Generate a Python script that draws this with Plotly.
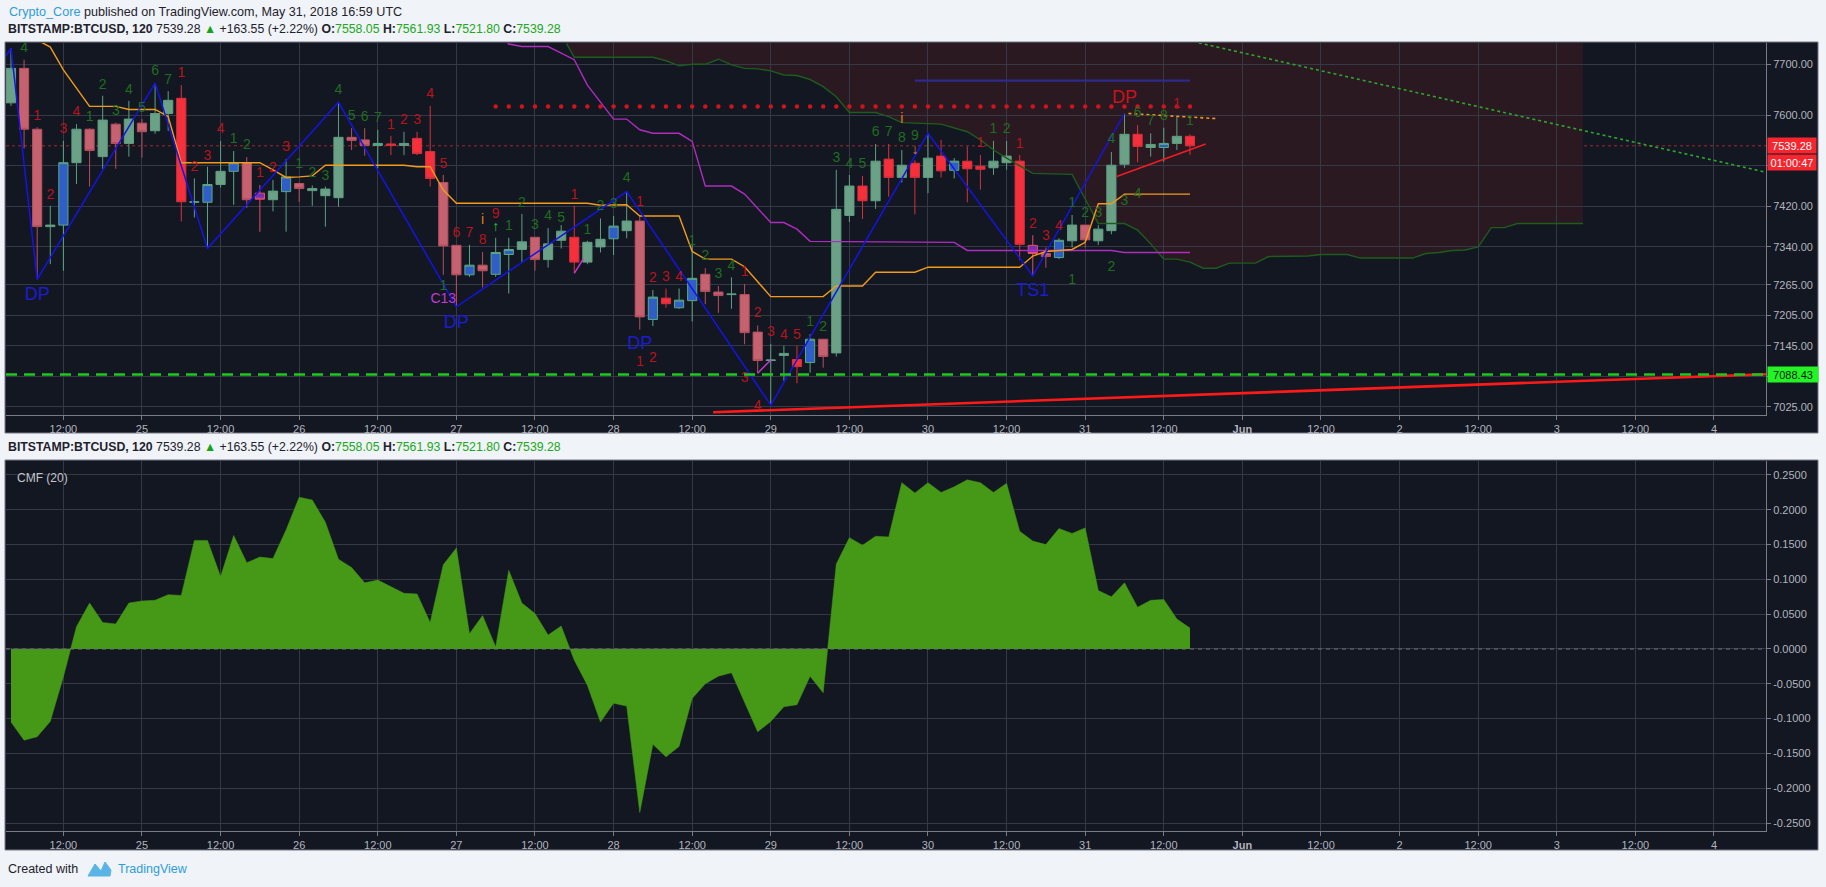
import pandas as pd
import plotly.graph_objects as go

W, H = 1826, 887

# ---------------- data ----------------
first_bar = pd.Timestamp("2018-05-24 04:00")
bar_step = pd.Timedelta(hours=2)

opens = [7624, 7692, 7572, 7380, 7383, 7506, 7572, 7518, 7582, 7544,
         7584, 7569, 7603, 7633, 7428, 7428, 7463, 7489, 7506, 7446,
         7433, 7449, 7465, 7451, 7441, 7437, 7556, 7551, 7540, 7543,
         7540, 7554, 7528, 7467, 7343, 7285, 7304, 7286, 7325, 7335,
         7359, 7315, 7353, 7359, 7310, 7340, 7356, 7372, 7391, 7197,
         7239, 7220, 7234, 7286, 7251, 7246, 7246, 7172, 7116, 7126,
         7118, 7112, 7158, 7131, 7402, 7460, 7431, 7513, 7477, 7505,
         7477, 7519, 7491, 7509, 7499, 7496, 7506, 7509, 7343, 7327,
         7319, 7352, 7383, 7352, 7372, 7503, 7562, 7536, 7536, 7544,
         7558.05]
highs = [7732, 7709, 7576, 7421, 7549, 7582, 7574, 7638, 7585, 7628,
         7592, 7663, 7647, 7659, 7475, 7498, 7549, 7529, 7517, 7462,
         7472, 7513, 7467, 7461, 7459, 7625, 7574, 7574, 7571, 7559,
         7567, 7567, 7618, 7482, 7343, 7344, 7330, 7358, 7358, 7405,
         7359, 7377, 7383, 7421, 7352, 7396, 7401, 7449, 7403, 7255,
         7258, 7258, 7347, 7298, 7263, 7280, 7267, 7185, 7149, 7145,
         7145, 7168, 7158, 7492, 7482, 7480, 7543, 7543, 7531, 7511,
         7564, 7551, 7515, 7538, 7521, 7549, 7549, 7521, 7363, 7339,
         7357, 7403, 7383, 7383, 7527, 7603, 7580, 7564, 7575, 7597,
         7561.93]
lows = [7618, 7534, 7276, 7306, 7293, 7464, 7459, 7494, 7494, 7518,
        7516, 7563, 7569, 7390, 7398, 7337, 7457, 7423, 7417, 7370,
        7410, 7370, 7429, 7421, 7380, 7419, 7531, 7520, 7495, 7521,
        7521, 7521, 7459, 7285, 7222, 7281, 7260, 7281, 7248, 7310,
        7293, 7299, 7337, 7289, 7306, 7329, 7324, 7357, 7177, 7184,
        7220, 7218, 7193, 7227, 7210, 7218, 7148, 7091, 7028, 7076,
        7071, 7092, 7102, 7124, 7389, 7395, 7415, 7439, 7467, 7404,
        7446, 7477, 7475, 7428, 7453, 7482, 7492, 7314, 7283, 7299,
        7316, 7339, 7339, 7344, 7365, 7496, 7507, 7518, 7508, 7531,
        7521.80]
closes = [7692, 7572, 7380, 7383, 7506, 7572, 7530, 7590, 7544, 7592,
          7567, 7603, 7629, 7429, 7429, 7463, 7489, 7506, 7433, 7434,
          7450, 7478, 7455, 7455, 7454, 7556, 7550, 7540, 7544, 7540,
          7544, 7524, 7475, 7342, 7285, 7304, 7293, 7329, 7335, 7350,
          7315, 7346, 7371, 7310, 7349, 7355, 7381, 7391, 7202, 7241,
          7228, 7235, 7278, 7252, 7244, 7247, 7171, 7116, 7117, 7130,
          7104, 7158, 7124, 7414, 7460, 7431, 7509, 7477, 7501, 7477,
          7515, 7490, 7509, 7494, 7493, 7509, 7519, 7345, 7327, 7321,
          7353, 7383, 7354, 7375, 7501, 7562, 7538, 7542, 7544, 7558,
          7539.28]
# bar colouring of the indicator: g=green, p=pale red, r=red, b=blue, v=violet
bar_style = list("gppgbgpgpg" "pggrgbgbpv" "gbpgggppbr" "grrppbpbbg" "pggrggbgpb"
                 "rbbppgppgg" "rbpggrgrgr" "grbrrggrvp" "bgpgggrgbg" "r")

cmf = [-0.105, -0.131, -0.126, -0.104, -0.040, 0.032, 0.066, 0.038, 0.036, 0.066,
       0.069, 0.070, 0.078, 0.077, 0.156, 0.156, 0.104, 0.163, 0.124, 0.132,
       0.130, 0.171, 0.218, 0.214, 0.182, 0.129, 0.117, 0.095, 0.099, 0.089,
       0.080, 0.079, 0.038, 0.121, 0.145, 0.022, 0.048, 0.003, 0.113, 0.066,
       0.051, 0.020, 0.033, -0.016, -0.052, -0.105, -0.078, -0.082, -0.235, -0.137,
       -0.155, -0.140, -0.071, -0.050, -0.039, -0.034, -0.076, -0.119, -0.104, -0.083,
       -0.080, -0.039, -0.063, 0.122, 0.160, 0.149, 0.162, 0.161, 0.239, 0.224,
       0.239, 0.225, 0.233, 0.243, 0.239, 0.225, 0.238, 0.169, 0.155, 0.150,
       0.173, 0.166, 0.174, 0.084, 0.075, 0.095, 0.060, 0.070, 0.071, 0.043,
       0.030]

# overlays (x given in bar numbers)
zigzag_idx = [-1, 0, 2, 11, 15, 25, 34, 47, 58, 70, 78, 85]
zigzag_px = [7692, 7732, 7276, 7663, 7337, 7625, 7222, 7449, 7028, 7564, 7283, 7603]

orange_idx = [2, 3, 4, 6, 8, 9, 11, 12, 13, 19, 20, 21, 22, 23, 24, 30, 31, 32, 33, 34,
              44, 45, 47, 48, 51, 52, 53, 55, 56, 58, 62, 63, 65, 66, 69, 70, 77, 78, 79, 81,
              82, 83, 84, 85, 90]
orange_px = [7748, 7734, 7689, 7617, 7617, 7611, 7611, 7597, 7506, 7506, 7492, 7477, 7478, 7480, 7501, 7501, 7498, 7498, 7452, 7426,
             7426, 7422, 7423, 7401, 7401, 7331, 7316, 7316, 7301, 7242, 7242, 7263, 7263, 7290, 7290, 7300, 7300, 7322, 7331, 7335,
             7349, 7425, 7425, 7444, 7444]

magenta_idx = [37, 38, 39, 41, 43, 44, 46, 47, 48, 49, 51, 52, 53, 55, 56, 58, 59, 60, 61, 72, 73, 84, 85, 90]
magenta_px = [7770, 7740, 7735, 7735, 7709, 7659, 7592, 7592, 7571, 7564, 7564, 7548, 7460, 7460, 7444, 7388, 7388, 7375, 7351, 7349, 7333, 7333, 7329, 7329]
magenta_seg1 = ([43, 43.7], [7288, 7317])
magenta_seg2 = ([57, 58], [7091, 7117])

cloud_idx = [42.4, 43, 45, 49, 50, 51, 52, 53, 54, 55, 56, 57, 58, 59, 60, 61, 62, 63, 64, 66,
             67, 68, 71, 72, 73, 74, 75, 76, 77, 78, 81, 82, 83, 85, 86, 87, 88, 89, 90, 91,
             92, 93, 95, 96, 99, 100, 102, 103, 107, 108, 109, 110, 111, 112, 113, 114, 115, 120]
cloud_px = [7741, 7714, 7714, 7714, 7707, 7697, 7700, 7700, 7710, 7699, 7692, 7691, 7687, 7679, 7678, 7670, 7656, 7636, 7605, 7605,
            7597, 7585, 7582, 7574, 7567, 7551, 7531, 7515, 7500, 7485, 7483, 7433, 7386, 7386, 7373, 7346, 7316, 7316, 7310, 7298,
            7298, 7308, 7308, 7321, 7322, 7325, 7325, 7318, 7318, 7327, 7329, 7333, 7334, 7340, 7378, 7378, 7386, 7386]
cloud_top = 7800

resistance_level = 7617
resistance_bars = (37, 90)
navy_level = 7668
navy_bars = (69, 90)
support_level = 7088.43
last_price = 7539.28
red_ray = ([53.6, 134], [7014, 7089])
green_dotted = ([88, 134], [7758, 7487])
red_short = ([84.4, 91.2], [7479, 7543])
orange_dotted = ([85.3, 92], [7603, 7593])

green_labels = [(1, "4", 7732), (6, "1", 7595), (7, "2", 7659), (8, "3", 7607), (9, "4", 7649), (10, "5", 7613),
                (11, "6", 7686), (12, "7", 7669), (17, "1", 7552), (18, "2", 7539), (22, "1", 7502), (23, "2", 7485),
                (24, "3", 7479), (25, "4", 7648), (26, "5", 7597), (27, "6", 7595), (28, "7", 7593), (33, "1", 7262),
                (38, "1", 7380), (39, "2", 7426), (40, "3", 7382), (41, "4", 7400), (42, "5", 7396), (44, "1", 7373),
                (45, "2", 7419), (46, "3", 7423), (47, "4", 7475), (52, "1", 7350), (53, "2", 7321), (54, "3", 7285),
                (55, "4", 7302), (61, "1", 7191), (62, "2", 7181), (63, "3", 7515), (64, "4", 7503), (65, "5", 7502),
                (66, "6", 7565), (67, "7", 7565), (68, "8", 7553), (69, "9", 7557), (75, "1", 7572), (76, "2", 7572),
                (81, "1", 7425), (82, "2", 7405), (83, "3", 7405), (84, "4", 7551), (86, "6", 7603), (87, "7", 7588),
                (88, "8", 7597), (90, "1", 7587), (81, "1", 7273), (84, "2", 7300), (85, "3", 7430), (86, "4", 7444)]
red_labels = [(2, "1", 7598), (3, "2", 7442), (4, "3", 7571), (5, "4", 7605), (13, "1", 7681), (14, "2", 7497),
              (15, "3", 7519), (16, "4", 7571), (19, "1", 7485), (20, "2", 7494), (21, "3", 7536), (29, "1", 7580),
              (30, "2", 7589), (31, "3", 7589), (32, "4", 7641), (33, "5", 7503), (34, "6", 7367), (35, "7", 7367),
              (36, "8", 7352), (37, "9", 7404), (43, "1", 7442), (48, "1", 7427), (49, "2", 7277), (50, "3", 7280),
              (51, "4", 7280), (56, "1", 7289), (57, "2", 7208), (58, "3", 7171), (59, "4", 7166), (60, "5", 7166),
              (48, "1", 7112), (49, "2", 7120), (56, "3", 7081), (57, "4", 7025), (74, "1", 7544), (77, "1", 7541),
              (78, "2", 7385), (79, "3", 7360), (80, "4", 7381), (89, "1", 7620)]
big_labels = [(2, "DP", 7245, "#1c1cd0"), (34, "DP", 7189, "#1c1cd0"), (48, "DP", 7147, "#1c1cd0"),
              (78, "TS1", 7252, "#1c1cd0"), (85, "DP", 7633, "#c8141c")]
small_special = [(33, "C13", 7237, "#c13ad8"), (36, "i", 7392, "#d9801a"), (68, "i", 7592, "#d9801a"),
                 (69, "↓", 7531, "#d9801a"), (37, "↑", 7379, "#25d025")]

tick_times = pd.date_range("2018-05-24 12:00", periods=22, freq="12h")
tick_text = ["12:00", "25", "12:00", "26", "12:00", "27", "12:00", "28", "12:00", "29", "12:00",
             "30", "12:00", "31", "12:00", "<b>Jun</b>", "12:00", "2", "12:00", "3", "12:00", "4"]
price_ticks = [7025, 7085, 7145, 7205, 7265, 7340, 7420, 7500, 7600, 7700]
price_tick_text = ["7025.00", "", "7145.00", "7205.00", "7265.00", "7340.00", "7420.00", "", "7600.00", "7700.00"]
cmf_ticks = [0.25, 0.2, 0.15, 0.1, 0.05, 0.0, -0.05, -0.1, -0.15, -0.2, -0.25]

# ---------------- geometry / style ----------------
FONT = "Liberation Sans, Arial, sans-serif"
BG = "#131722"
GRID = "#353945"
AXC = "#787b86"
TXT = "#b2b5be"
PAGE = "#f0f3f7"


def xp(px):
    return px / W


def yp(py):
    return 1 - py / H


bars = list(range(len(opens)))
tick_vals = [(t - first_bar) / bar_step for t in tick_times]
x_range = [-0.38, 133.97]

STY = {
    "g": ("#6ba287", "#5f9f80"),
    "p": ("#c6626f", "#b5505e"),
    "r": ("#f5303c", "#d8313b"),
    "b": ("#2f5fc6", "#5aa882"),
    "v": ("#7c2eb3", "#e0506a"),
}

fig = go.Figure()

# Ichimoku-like cloud line
fig.add_trace(go.Scatter(x=cloud_idx, y=cloud_px, mode="lines",
                         line=dict(color="#1d5c1d", width=1.4), hoverinfo="skip"))

# candles
for key, (fillc, linec) in STY.items():
    idx = [i for i in bars if bar_style[i] == key]
    st = dict(fillcolor=fillc, line=dict(color=linec, width=1))
    fig.add_trace(go.Candlestick(
        x=idx, open=[opens[i] for i in idx], high=[highs[i] for i in idx],
        low=[lows[i] for i in idx], close=[closes[i] for i in idx],
        increasing=st, decreasing=st, whiskerwidth=0, hoverinfo="skip",
        xaxis="x", yaxis="y"))

# lines
fig.add_trace(go.Scatter(x=magenta_idx, y=magenta_px, mode="lines",
                         line=dict(color="#b02cc0", width=1.4), hoverinfo="skip"))
for seg in (magenta_seg1, magenta_seg2):
    fig.add_trace(go.Scatter(x=seg[0], y=seg[1], mode="lines",
                             line=dict(color="#c83ad8", width=1.4), hoverinfo="skip"))
fig.add_trace(go.Scatter(x=orange_idx, y=orange_px, mode="lines",
                         line=dict(color="#f29a1c", width=1.4), hoverinfo="skip"))
fig.add_trace(go.Scatter(x=zigzag_idx, y=zigzag_px, mode="lines",
                         line=dict(color="#1414e6", width=1.5), hoverinfo="skip"))
fig.add_trace(go.Scatter(x=list(navy_bars), y=[navy_level] * 2, mode="lines",
                         line=dict(color="#2c2a8c", width=2.2), hoverinfo="skip"))
res_x = list(range(resistance_bars[0], resistance_bars[1] + 1))
fig.add_trace(go.Scatter(x=res_x, y=[resistance_level] * len(res_x), mode="markers",
                         marker=dict(color="#d0141c", size=4.5), hoverinfo="skip"))
fig.add_trace(go.Scatter(x=red_ray[0], y=red_ray[1], mode="lines",
                         line=dict(color="#ff1a1a", width=2.6), hoverinfo="skip"))
fig.add_trace(go.Scatter(x=green_dotted[0], y=green_dotted[1], mode="lines",
                         line=dict(color="#2fa52f", width=1.6, dash="dot"), hoverinfo="skip"))
fig.add_trace(go.Scatter(x=red_short[0], y=red_short[1], mode="lines",
                         line=dict(color="#f01c24", width=1.6), hoverinfo="skip"))
fig.add_trace(go.Scatter(x=orange_dotted[0], y=orange_dotted[1], mode="lines",
                         line=dict(color="#f29a1c", width=1.6, dash="dot"), hoverinfo="skip"))


def text_trace(items, color, size):
    return go.Scatter(x=[a[0] for a in items], y=[a[2] for a in items], text=[a[1] for a in items],
                      mode="text", textposition="middle center",
                      textfont=dict(color=color, size=size, family=FONT), hoverinfo="skip")


fig.add_trace(text_trace(green_labels, "#1f6e1f", 14))
fig.add_trace(text_trace(red_labels, "#b8141c", 14))
for item in big_labels:
    fig.add_trace(go.Scatter(x=[item[0]], y=[item[2]], text=[item[1]], mode="text",
                             textfont=dict(color=item[3], size=18, family=FONT), hoverinfo="skip"))
for item in small_special:
    fig.add_trace(go.Scatter(x=[item[0]], y=[item[2]], text=[item[1]], mode="text",
                             textfont=dict(color=item[3], size=14, family=FONT), hoverinfo="skip"))

# CMF
fig.add_trace(go.Scatter(x=bars, y=cmf, mode="lines", fill="tozeroy", fillcolor="#459917",
                         line=dict(color="#459917", width=0.5), xaxis="x2", yaxis="y2",
                         hoverinfo="skip"))

# ---------------- shapes ----------------
cloud_path = "M " + " L ".join(f"{x},{y}" for x, y in zip(cloud_idx, cloud_px))
cloud_path += f" L {cloud_idx[-1]},{cloud_top} L {cloud_idx[0]},{cloud_top} Z"

shapes = [
    dict(type="rect", xref="paper", yref="paper", x0=xp(5), x1=xp(1818), y0=yp(433), y1=yp(42),
         fillcolor=BG, line=dict(color=AXC, width=1), layer="below"),
    dict(type="rect", xref="paper", yref="paper", x0=xp(5), x1=xp(1818), y0=yp(850), y1=yp(460),
         fillcolor=BG, line=dict(color=AXC, width=1), layer="below"),
    dict(type="path", xref="x", yref="y", path=cloud_path, fillcolor="#2b1922",
         line=dict(width=0), layer="below"),
    dict(type="line", xref="x domain", yref="y", x0=0, x1=1, y0=last_price, y1=last_price,
         line=dict(color="#a3252b", width=1, dash="dot"), layer="below"),
    dict(type="line", xref="x domain", yref="y", x0=0, x1=1, y0=support_level, y1=support_level,
         line=dict(color="#1ec81e", width=2.6, dash="11px,7px"), layer="above"),
    dict(type="line", xref="x2 domain", yref="y2", x0=0, x1=1, y0=0, y1=0,
         line=dict(color="#6f727c", width=1, dash="4px,4px"), layer="above"),
    # TradingView logo (decoration)
    dict(type="path", xref="paper", yref="paper",
         path=f"M {xp(88)},{yp(876)} L {xp(95)},{yp(864)} L {xp(101)},{yp(871)} L {xp(105)},{yp(862)} "
              f"L {xp(111)},{yp(870)} L {xp(110)},{yp(876)} Z",
         fillcolor="#5ab5e6", line=dict(color="#5ab5e6", width=1)),
]

# ---------------- annotations ----------------
ann = []
ann.append(dict(xref="paper", yref="paper", x=xp(7), y=yp(12), xanchor="left", yanchor="middle",
                showarrow=False, font=dict(family=FONT, size=12.6, color="#1e222d"),
                text="<span style='color:#2e9ddb'>Crypto_Core</span> published on TradingView.com, May 31, 2018 16:59 UTC"))
hdr = ("<b>BITSTAMP:BTCUSD, 120</b> 7539.28 <span style='color:#17a317'>▲</span> +163.55 (+2.22%) "
       "<b>O:</b><span style='color:#20a820'>7558.05</span> <b>H:</b><span style='color:#20a820'>7561.93</span> "
       "<b>L:</b><span style='color:#20a820'>7521.80</span> <b>C:</b><span style='color:#20a820'>7539.28</span>")
for yy in (29, 447):
    ann.append(dict(xref="paper", yref="paper", x=xp(6), y=yp(yy), xanchor="left", yanchor="middle",
                    showarrow=False, font=dict(family=FONT, size=12.3, color="#1e222d"), text=hdr))
ann.append(dict(xref="paper", yref="paper", x=xp(15), y=yp(478), xanchor="left", yanchor="middle",
                showarrow=False, font=dict(family=FONT, size=12, color="#c3c5cb"), text="CMF (20)"))
ann.append(dict(xref="paper", yref="paper", x=xp(6), y=yp(869), xanchor="left", yanchor="middle",
                showarrow=False, font=dict(family=FONT, size=12.5, color="#1e222d"), text="Created with"))
ann.append(dict(xref="paper", yref="paper", x=xp(116), y=yp(869), xanchor="left", yanchor="middle",
                showarrow=False, font=dict(family=FONT, size=12.5, color="#2e9ddb"), text="TradingView"))
ann.append(dict(xref="paper", yref="y", x=xp(1767), y=last_price, xanchor="left", yanchor="middle",
                showarrow=False, font=dict(family=FONT, size=11, color="#ffffff"), text="7539.28",
                bgcolor="#f7252e", width=46, height=13, borderpad=1, align="center"))
ann.append(dict(xref="paper", yref="paper", x=xp(1767), y=yp(162), xanchor="left", yanchor="middle",
                showarrow=False, font=dict(family=FONT, size=11, color="#ffffff"), text="01:00:47",
                bgcolor="#f7252e", width=46, height=13, borderpad=1, align="center"))
ann.append(dict(xref="paper", yref="y", x=xp(1767), y=support_level, xanchor="left", yanchor="middle",
                showarrow=False, font=dict(family=FONT, size=11, color="#131722"), text="7088.43",
                bgcolor="#22f522", width=48, height=13, borderpad=1, align="center"))

xcommon = dict(domain=[xp(6), xp(1766)], range=x_range, tickmode="array", tickvals=tick_vals,
               ticktext=tick_text, showgrid=True, gridcolor=GRID, gridwidth=1, zeroline=False,
               showline=True, linecolor=AXC, linewidth=1, ticks="outside", ticklen=4, tickcolor=AXC,
               tickfont=dict(family=FONT, size=11, color=TXT), fixedrange=True,
               rangeslider=dict(visible=False))
ycommon = dict(side="right", showgrid=True, gridcolor=GRID, gridwidth=1, zeroline=False, showline=True,
               linecolor=AXC, linewidth=1, ticks="outside", ticklen=4, tickcolor=AXC,
               tickfont=dict(family=FONT, size=11, color=TXT), fixedrange=True, tickmode="array")

fig.update_layout(
    template="none",
    width=W, height=H, autosize=False,
    margin=dict(l=0, r=0, t=0, b=0, pad=0),
    paper_bgcolor=PAGE, plot_bgcolor=BG,
    showlegend=False, hovermode=False,
    boxgap=0.3, boxgroupgap=0,
    xaxis=dict(anchor="y", **xcommon),
    xaxis2=dict(anchor="y2", **xcommon),
    yaxis=dict(anchor="x", domain=[yp(415), yp(43)], range=[7008.6, 7742],
               tickvals=price_ticks, ticktext=price_tick_text, **ycommon),
    yaxis2=dict(anchor="x2", domain=[yp(831), yp(461)], range=[-0.2615, 0.2701],
                tickvals=cmf_ticks, ticktext=[f"{v:.4f}" for v in cmf_ticks], **ycommon),
    shapes=shapes,
    annotations=ann,
    font=dict(family=FONT),
)

# remove the browser's default page margin so the figure sits at the window origin
page_js = ("document.body.style.margin='0';document.body.style.padding='0';"
           f"document.body.style.background='{PAGE}';document.body.style.overflow='hidden';")
fig.write_html("out.html", post_script=page_js, config={"displayModeBar": False})
